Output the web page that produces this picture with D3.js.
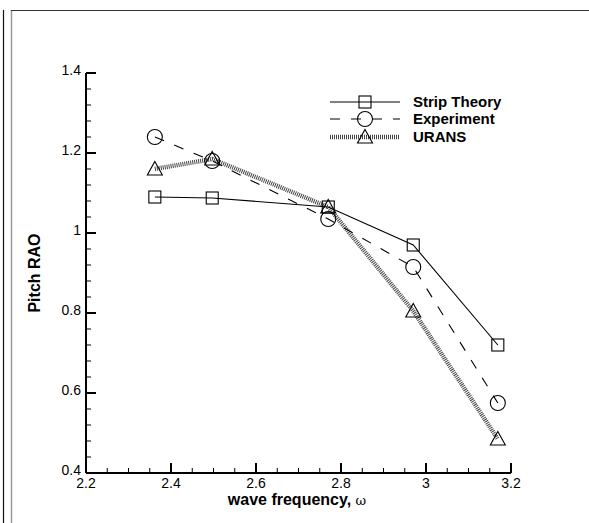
<!DOCTYPE html>
<html>
<head>
<meta charset="utf-8">
<script src="https://cdn.jsdelivr.net/npm/d3@7"></script>
<style>
  body { margin: 0; background: #fff; }
  svg { display: block; font-family: Arial, "Liberation Sans", sans-serif; }
</style>
</head>
<body>
<svg id="chart" width="589" height="523"></svg>
<script>
const freq = [2.362, 2.497, 2.77, 2.97, 3.169];
const stripTheory = [1.09, 1.0875, 1.065, 0.97, 0.72];
const experiment = [1.24, 1.18, 1.035, 0.915, 0.575];
const urans = [1.16, 1.185, 1.065, 0.805, 0.485];
const xTicks = [2.2, 2.4, 2.6, 2.8, 3, 3.2];
const yTicks = [0.4, 0.6, 0.8, 1, 1.2, 1.4];

const series = [
  { name: "Strip Theory", values: stripTheory, marker: "square" },
  { name: "Experiment", values: experiment, marker: "circle" },
  { name: "URANS", values: urans, marker: "triangle" },
];

const svg = d3.select("#chart");
const width = +svg.attr("width");
const height = +svg.attr("height");

// frame lines
svg.append("line").attr("x1", 3.5).attr("x2", 3.5).attr("y1", 10).attr("y2", height)
  .attr("stroke", "#111").attr("stroke-width", 1.2);
svg.append("line").attr("x1", 11.5).attr("x2", 11.5).attr("y1", 10).attr("y2", height)
  .attr("stroke", "#999").attr("stroke-width", 1.5);
svg.append("line").attr("x1", 11).attr("x2", width).attr("y1", 10.5).attr("y2", 10.5)
  .attr("stroke", "#333").attr("stroke-width", 1.2);

const x = d3.scaleLinear().domain([2.2, 3.2]).range([86, 511]);
const y = d3.scaleLinear().domain([0.4, 1.4]).range([473, 73]);

const g = svg.append("g");

// x axis
const xAxis = g.append("g").attr("transform", `translate(0, ${y(0.4)})`);
xAxis.append("line").attr("x1", x(2.2)).attr("x2", x(3.2))
  .attr("stroke", "#000").attr("stroke-width", 2);
xAxis.selectAll(".minor")
  .data(d3.range(2.2, 3.2001, 0.05))
  .join("line")
  .attr("x1", (d) => x(d)).attr("x2", (d) => x(d))
  .attr("y1", 0).attr("y2", -5)
  .attr("stroke", "#000").attr("stroke-width", 1);
xAxis.selectAll(".major")
  .data(xTicks)
  .join("line")
  .attr("x1", (d) => x(d)).attr("x2", (d) => x(d))
  .attr("y1", 0).attr("y2", -10)
  .attr("stroke", "#000").attr("stroke-width", 2);
xAxis.selectAll("text")
  .data(xTicks)
  .join("text")
  .attr("x", (d) => x(d))
  .attr("y", 15)
  .attr("text-anchor", "middle")
  .attr("font-size", 14)
  .text((d) => d);

// y axis
const yAxis = g.append("g").attr("transform", `translate(${x(2.2)}, 0)`);
yAxis.append("line").attr("y1", y(0.4)).attr("y2", y(1.4))
  .attr("stroke", "#000").attr("stroke-width", 2);
yAxis.selectAll(".minor")
  .data(d3.range(0.4, 1.4001, 0.04))
  .join("line")
  .attr("y1", (d) => y(d)).attr("y2", (d) => y(d))
  .attr("x1", 0).attr("x2", 5)
  .attr("stroke", "#000").attr("stroke-width", 1);
yAxis.selectAll(".major")
  .data(yTicks)
  .join("line")
  .attr("y1", (d) => y(d)).attr("y2", (d) => y(d))
  .attr("x1", 0).attr("x2", 10)
  .attr("stroke", "#000").attr("stroke-width", 2);
yAxis.selectAll("text")
  .data(yTicks)
  .join("text")
  .attr("x", -5)
  .attr("y", (d) => y(d) + 2)
  .attr("text-anchor", "end")
  .attr("font-size", 14)
  .text((d) => d);

// axis titles
const xTitle = svg.append("text")
  .attr("x", 297).attr("y", 505)
  .attr("text-anchor", "middle")
  .attr("font-size", 16).attr("font-weight", "bold");
xTitle.append("tspan").text("wave frequency, ");
xTitle.append("tspan").attr("font-weight", "normal").attr("font-size", 13)
  .attr("font-family", "'DejaVu Serif', serif").text("ω");

svg.append("text")
  .attr("transform", `translate(40, ${y(0.9)}) rotate(-90)`)
  .attr("text-anchor", "middle")
  .attr("font-size", 16).attr("font-weight", "bold")
  .text("Pitch RAO");

function styleLine(sel, name) {
  if (name === "Strip Theory") {
    sel.attr("stroke", "#000").attr("stroke-width", 1.1);
  } else if (name === "Experiment") {
    sel.attr("stroke", "#000").attr("stroke-width", 1.1).attr("stroke-dasharray", "10,11");
  } else {
    sel.attr("stroke", "#444").attr("stroke-width", 4.5).attr("stroke-dasharray", "1,1");
  }
  return sel;
}

function drawMarker(parent, type, cx, cy) {
  if (type === "square") {
    parent.append("rect").attr("x", cx - 6).attr("y", cy - 6).attr("width", 12).attr("height", 12)
      .attr("fill", "none").attr("stroke", "#000").attr("stroke-width", 1.1);
  } else if (type === "circle") {
    parent.append("circle").attr("cx", cx).attr("cy", cy).attr("r", 7.5)
      .attr("fill", "none").attr("stroke", "#000").attr("stroke-width", 1.1);
  } else {
    parent.append("path")
      .attr("d", `M${cx},${cy - 7.5}L${cx + 7.5},${cy + 6}L${cx - 7.5},${cy + 6}Z`)
      .attr("fill", "none").attr("stroke", "#000").attr("stroke-width", 1.1);
  }
}

const line = d3.line().x((d, i) => x(freq[i])).y((d) => y(d));

const plot = svg.append("g");
series.slice().reverse().forEach((s) => {
  styleLine(plot.append("path").attr("d", line(s.values)).attr("fill", "none"), s.name);
});
series.forEach((s) => {
  s.values.forEach((v, i) => drawMarker(plot, s.marker, x(freq[i]), y(v)));
});

// legend
const legendRows = [102, 119, 137];
const legend = svg.append("g");
series.forEach((s, i) => {
  const ly = legendRows[i];
  styleLine(legend.append("line").attr("x1", 330).attr("x2", 400).attr("y1", ly).attr("y2", ly), s.name);
  drawMarker(legend, s.marker, 365, ly);
  legend.append("text")
    .attr("x", 413).attr("y", ly + 5)
    .attr("font-size", 15).attr("font-weight", "bold")
    .text(s.name);
});
</script>
</body>
</html>
